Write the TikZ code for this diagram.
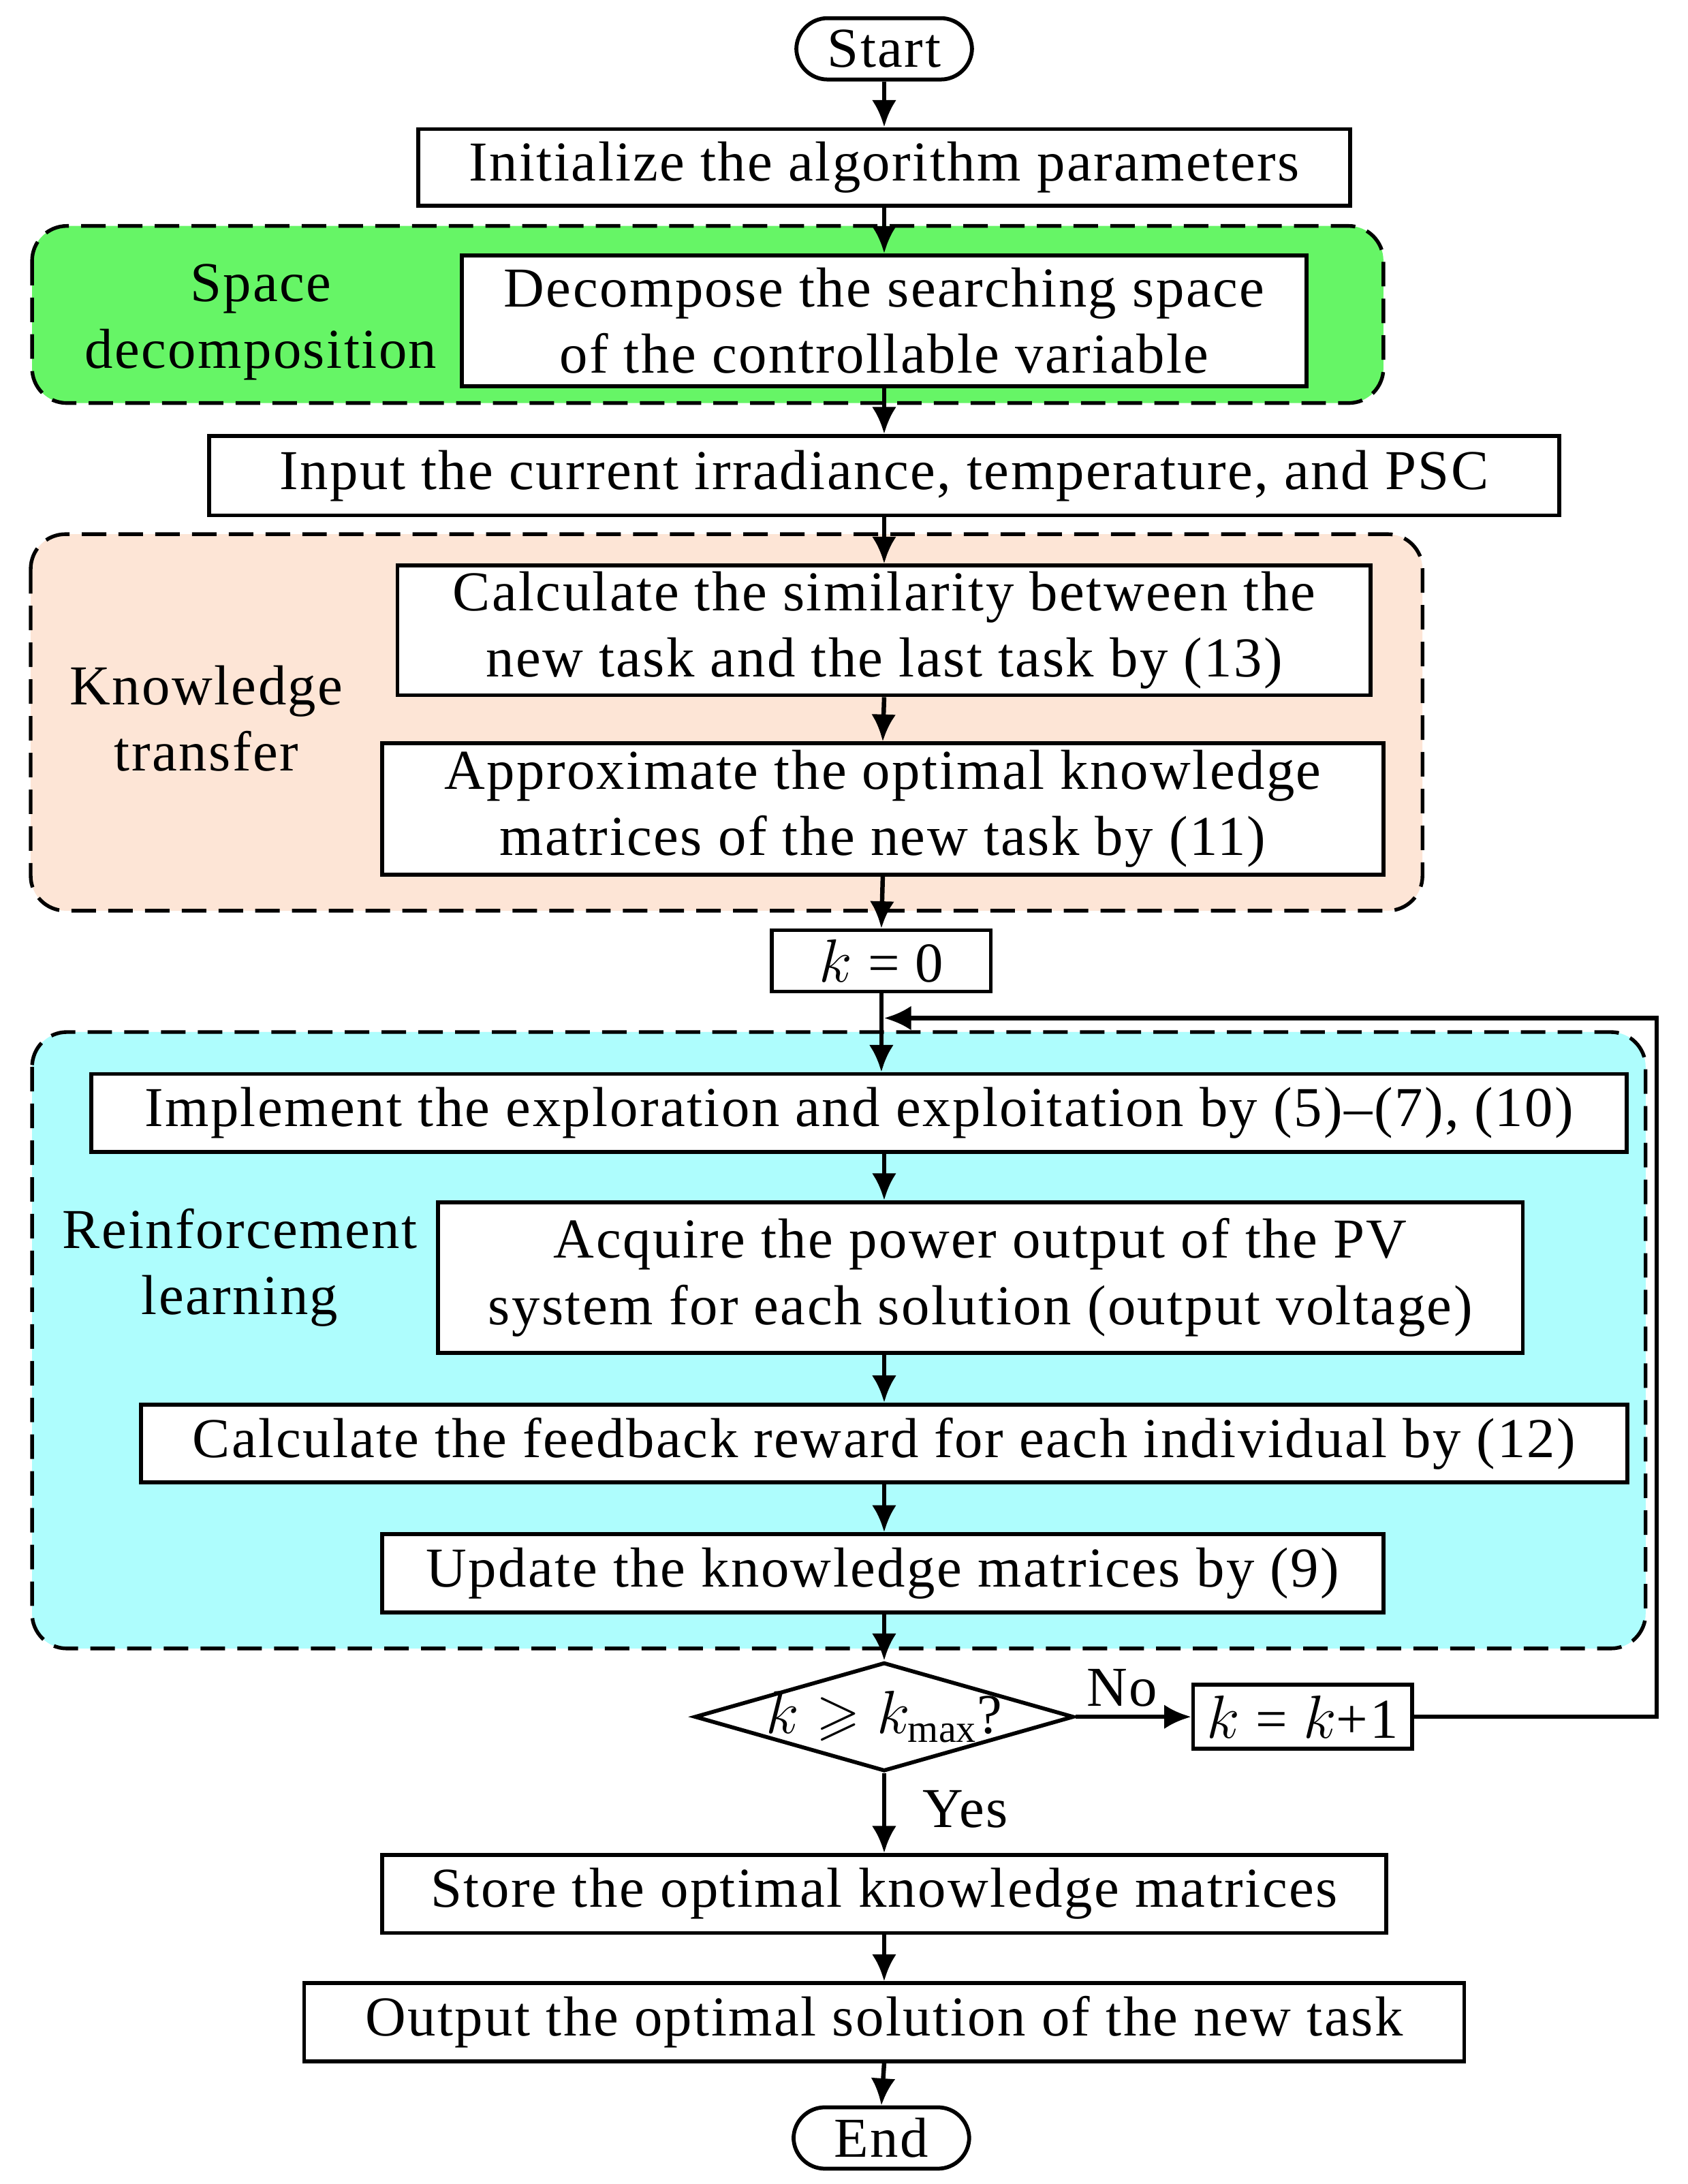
\documentclass[tikz,border=0pt]{standalone}
\usepackage{amssymb}
\usepackage{fontspec}
\setmainfont{Liberation Serif}[LetterSpace=3]
\usetikzlibrary{shapes.geometric,arrows.meta}
\begin{document}
\begin{tikzpicture}[x=0.02cm,y=-0.02cm,
  every node/.style={font=\fontsize{23}{27}\selectfont},
  box/.style={draw,line width=1.6pt,align=center,inner sep=0pt},
  grp/.style={draw,dashed,line width=1.5pt,rounded corners=0.5cm,dash pattern=on 10pt off 5pt},
  arr/.style={line width=1.8pt,-{Latex[length=11pt,width=10pt]}}]
\useasboundingbox (0,0) rectangle (1210,1566);
\fill[white] (0,0) rectangle (1210,1566);
\draw[grp,fill={rgb,255:red,102;green,245;blue,102}] (23,162) rectangle (992,289);
\draw[grp,fill={rgb,255:red,253;green,229;blue,214}] (22,383) rectangle (1020,653);
\draw[grp,fill={rgb,255:red,174;green,253;blue,253}] (23,740) rectangle (1180,1182);
\node[align=center] (lg1) at (187,231) {Space\\decomposition};
\node[align=center] (lg2) at (148,515) {Knowledge\\transfer};
\node[align=center] (lg3) at (172,909) {Reinforcement\\learning};
\node[box,rounded corners=0.45cm,minimum width=2.52cm,minimum height=0.88cm] (start) at (634,35) {Start};
\node[box,fill=white,minimum width=13.36cm,minimum height=1.1cm] (init) at (634,120) {Initialize the algorithm parameters};
\node[box,fill=white,minimum width=12.12cm,minimum height=1.88cm] (dec) at (634,230) {Decompose the searching space\\of the controllable variable};
\node[box,fill=white,minimum width=19.36cm,minimum height=1.14cm] (inp) at (634,341) {Input the current irradiance, temperature, and PSC};
\node[box,fill=white,minimum width=13.96cm,minimum height=1.86cm] (sim) at (634,452) {Calculate the similarity between the\\new task and the last task by (13)};
\node[box,fill=white,minimum width=14.36cm,minimum height=1.88cm] (app) at (633,580) {Approximate the optimal knowledge\\matrices of the new task by (11)};
\node[box,fill=white,minimum width=3.14cm,minimum height=0.88cm] (k0) at (632,689) {$k$ = 0};
\node[box,fill=white,minimum width=22.02cm,minimum height=1.12cm] (imp) at (616,798) {Implement the exploration and exploitation by (5)--(7), (10)};
\node[box,fill=white,minimum width=15.56cm,minimum height=2.16cm] (acq) at (703,916) {Acquire the power output of the PV\\system for each solution (output voltage)};
\node[box,fill=white,minimum width=21.32cm,minimum height=1.12cm] (fb) at (634,1035) {Calculate the feedback reward for each individual by (12)};
\node[box,fill=white,minimum width=14.36cm,minimum height=1.12cm] (upd) at (633,1128) {Update the knowledge matrices by (9)};
\node[box,diamond,aspect=3.5,inner sep=-6pt,minimum width=5.44cm,minimum height=1.56cm] (dia) at (634,1231) {$k\geqslant k_{\mathrm{max}}$?};
\node[box,minimum width=3.14cm,minimum height=0.92cm] (k1) at (934,1231) {$k$ = $k$+1};
\node[box,minimum width=14.4cm,minimum height=1.12cm] (sto) at (634,1358) {Store the optimal knowledge matrices};
\node[box,minimum width=16.64cm,minimum height=1.12cm] (out) at (634,1450) {Output the optimal solution of the new task};
\node[box,rounded corners=0.45cm,minimum width=2.52cm,minimum height=0.88cm] (end) at (632,1533) {End};
\draw[arr] (start) -- (init);
\draw[arr] (init.south) -- (dec.north);
\draw[arr] (dec.south) -- (inp.north);
\draw[arr] (inp.south) -- (sim.north);
\draw[arr] (sim.south) -- (app.north);
\draw[arr] (app.south) -- (k0.north);
\draw[arr] (k0.south) -- (imp.north -| k0.south);
\draw[arr] (imp.south -| dia.north) -- (acq.north -| dia.north);
\draw[arr] (acq.south -| dia.north) -- (fb.north -| dia.north);
\draw[arr] (fb.south -| dia.north) -- (upd.north -| dia.north);
\draw[arr] (upd.south -| dia.north) -- (dia.north);
\draw[arr] (dia.east) -- node[above,pos=0.4] (no) {No} (k1.west);
\coordinate (c1) at (1188,1231);
\coordinate (c2) at (1188,730);
\coordinate (c3) at (634,730);
\draw[arr] (k1.east) -- (c1) -- (c2) -- (c3);
\draw[arr] (dia.south) -- node[right,xshift=0.4cm,pos=0.45] (yes) {Yes} (sto.north);
\draw[arr] (sto.south) -- (out.north);
\draw[arr] (out.south) -- (end.north);
\end{tikzpicture}
\end{document}
